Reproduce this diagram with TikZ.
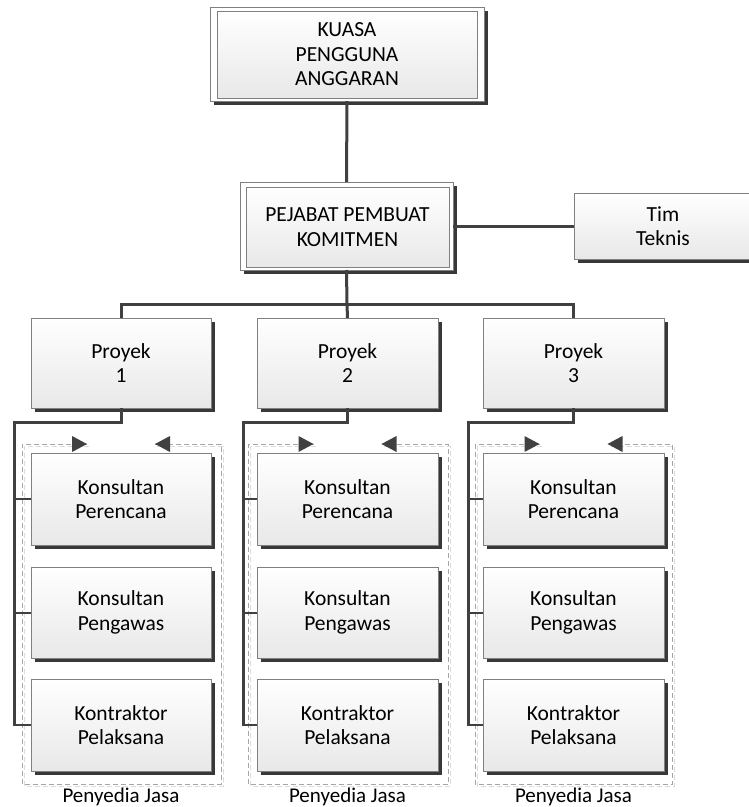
\documentclass[tikz,border=0pt]{standalone}
\usepackage{fontspec}
\setmainfont{Carlito}
\usetikzlibrary{shadows}
\definecolor{bord}{HTML}{808080}
\definecolor{lnc}{HTML}{404040}
\definecolor{shd}{HTML}{383838}
\definecolor{dsh}{HTML}{A6A6A6}
\definecolor{dshl}{HTML}{DDDDDD}
\begin{document}
\begin{tikzpicture}[x=1pt,y=-1pt,
  every node/.style={font=\fontsize{21.5}{24.5}\selectfont, align=center, inner sep=0pt, outer sep=0pt},
  ubox/.style={draw=bord, line width=0.9pt, top color=white, bottom color=black!9,
    general shadow={fill=shd, shadow xshift=3.5pt, shadow yshift=-3.5pt}},
  outbox/.style={draw=bord, line width=0.9pt, fill=white,
    general shadow={fill=shd, shadow xshift=4pt, shadow yshift=-4pt}},
  inbox/.style={draw=bord, line width=0.9pt, top color=white, bottom color=black!9},
  conn/.style={draw=lnc, line width=3pt},
  branch/.style={draw=lnc, line width=2pt},
  dashbox/.style={draw=dsh, line width=1pt, dash pattern=on 5pt off 3pt},
  dashboxl/.style={draw=dshl, line width=1pt, dash pattern=on 5pt off 3pt},
  tri/.style={fill=lnc},
  lbl/.style={font=\fontsize{21}{24}\selectfont}
]
\useasboundingbox (0,0) rectangle (749,807);
\clip (0,0) rectangle (749,807);

% top levels
\node[outbox, minimum width=274pt, minimum height=94pt] (kpaO) at (347,54) {};
\node[inbox, minimum width=260pt, minimum height=87pt] (kpa) at (347,54.5) {KUASA\\PENGGUNA\\ANGGARAN};

\node[outbox, minimum width=213pt, minimum height=88pt] (ppkO) at (346.5,226) {};
\node[inbox, minimum width=203pt, minimum height=80pt] (ppk) at (347.5,227) {PEJABAT PEMBUAT\\KOMITMEN};

\node[ubox, minimum width=178pt, minimum height=66pt] (tim) at (663,226) {Tim\\Teknis};

% proyek
\node[ubox, minimum width=180pt, minimum height=90pt] (p1) at (121,363) {Proyek\\1};
\node[ubox, minimum width=181pt, minimum height=90pt] (p2) at (347.5,363) {Proyek\\2};
\node[ubox, minimum width=181pt, minimum height=90pt] (p3) at (573.5,363) {Proyek\\3};

% connectors top
\draw[conn] (kpaO.south) -- (ppkO.north);
\draw[conn] (ppkO.east) -- (tim.west);
\coordinate (bus) at (347,304);
\draw[conn] (ppkO.south) -- (bus);
\draw[conn] (p1.north) |- (bus) -| (p3.north);
\draw[conn] (bus) -- (p2.north);

% columns
\foreach \i/\cx/\bw/\lx/\dl/\dr in {1/121/180/14/22/221, 2/347.5/181/243/248/448, 3/573.5/181/468/475/672}{
  % dashed container
  \coordinate (tr\i) at (\cx-34,444);
  \coordinate (tl\i) at (\cx+34,444);
  \draw[dashboxl] ([shift={(2,2)}]tr\i) -- (\dl+2,446) -- (\dl+2,786) -- (\dr+2,786) -- (\dr+2,446) -- ([shift={(2,2)}]tl\i);
  \draw[dashbox] (tr\i) -- (\dl,444) -- (\dl,784) -- (\dr,784) -- (\dr,444) -- (tl\i);
  \fill[tri] (tr\i) -- ++(-15,-8) -- ++(0,16) -- cycle;
  \fill[tri] (tl\i) -- ++(15,-8) -- ++(0,16) -- cycle;
  % boxes
  \node[ubox, minimum width=\bw pt, minimum height=92pt] (a\i) at (\cx,499) {Konsultan\\Perencana};
  \node[ubox, minimum width=\bw pt, minimum height=91pt] (b\i) at (\cx,612.5) {Konsultan\\Pengawas};
  \node[ubox, minimum width=\bw pt, minimum height=92pt] (k\i) at (\cx,725) {Kontraktor\\Pelaksana};
  \node[lbl] (pj\i) at (\cx,797) {Penyedia Jasa};
  % connectors
  \coordinate (ct\i) at (\lx,422);
  \draw[conn] (p\i.south) |- (ct\i) -- (ct\i |- k\i.west);
  \draw[branch] (ct\i |- a\i.west) -- (a\i.west);
  \draw[branch] (ct\i |- b\i.west) -- (b\i.west);
  \draw[branch] ([xshift=-1pt]ct\i |- k\i.west) -- (k\i.west);
}
\end{tikzpicture}
\end{document}
